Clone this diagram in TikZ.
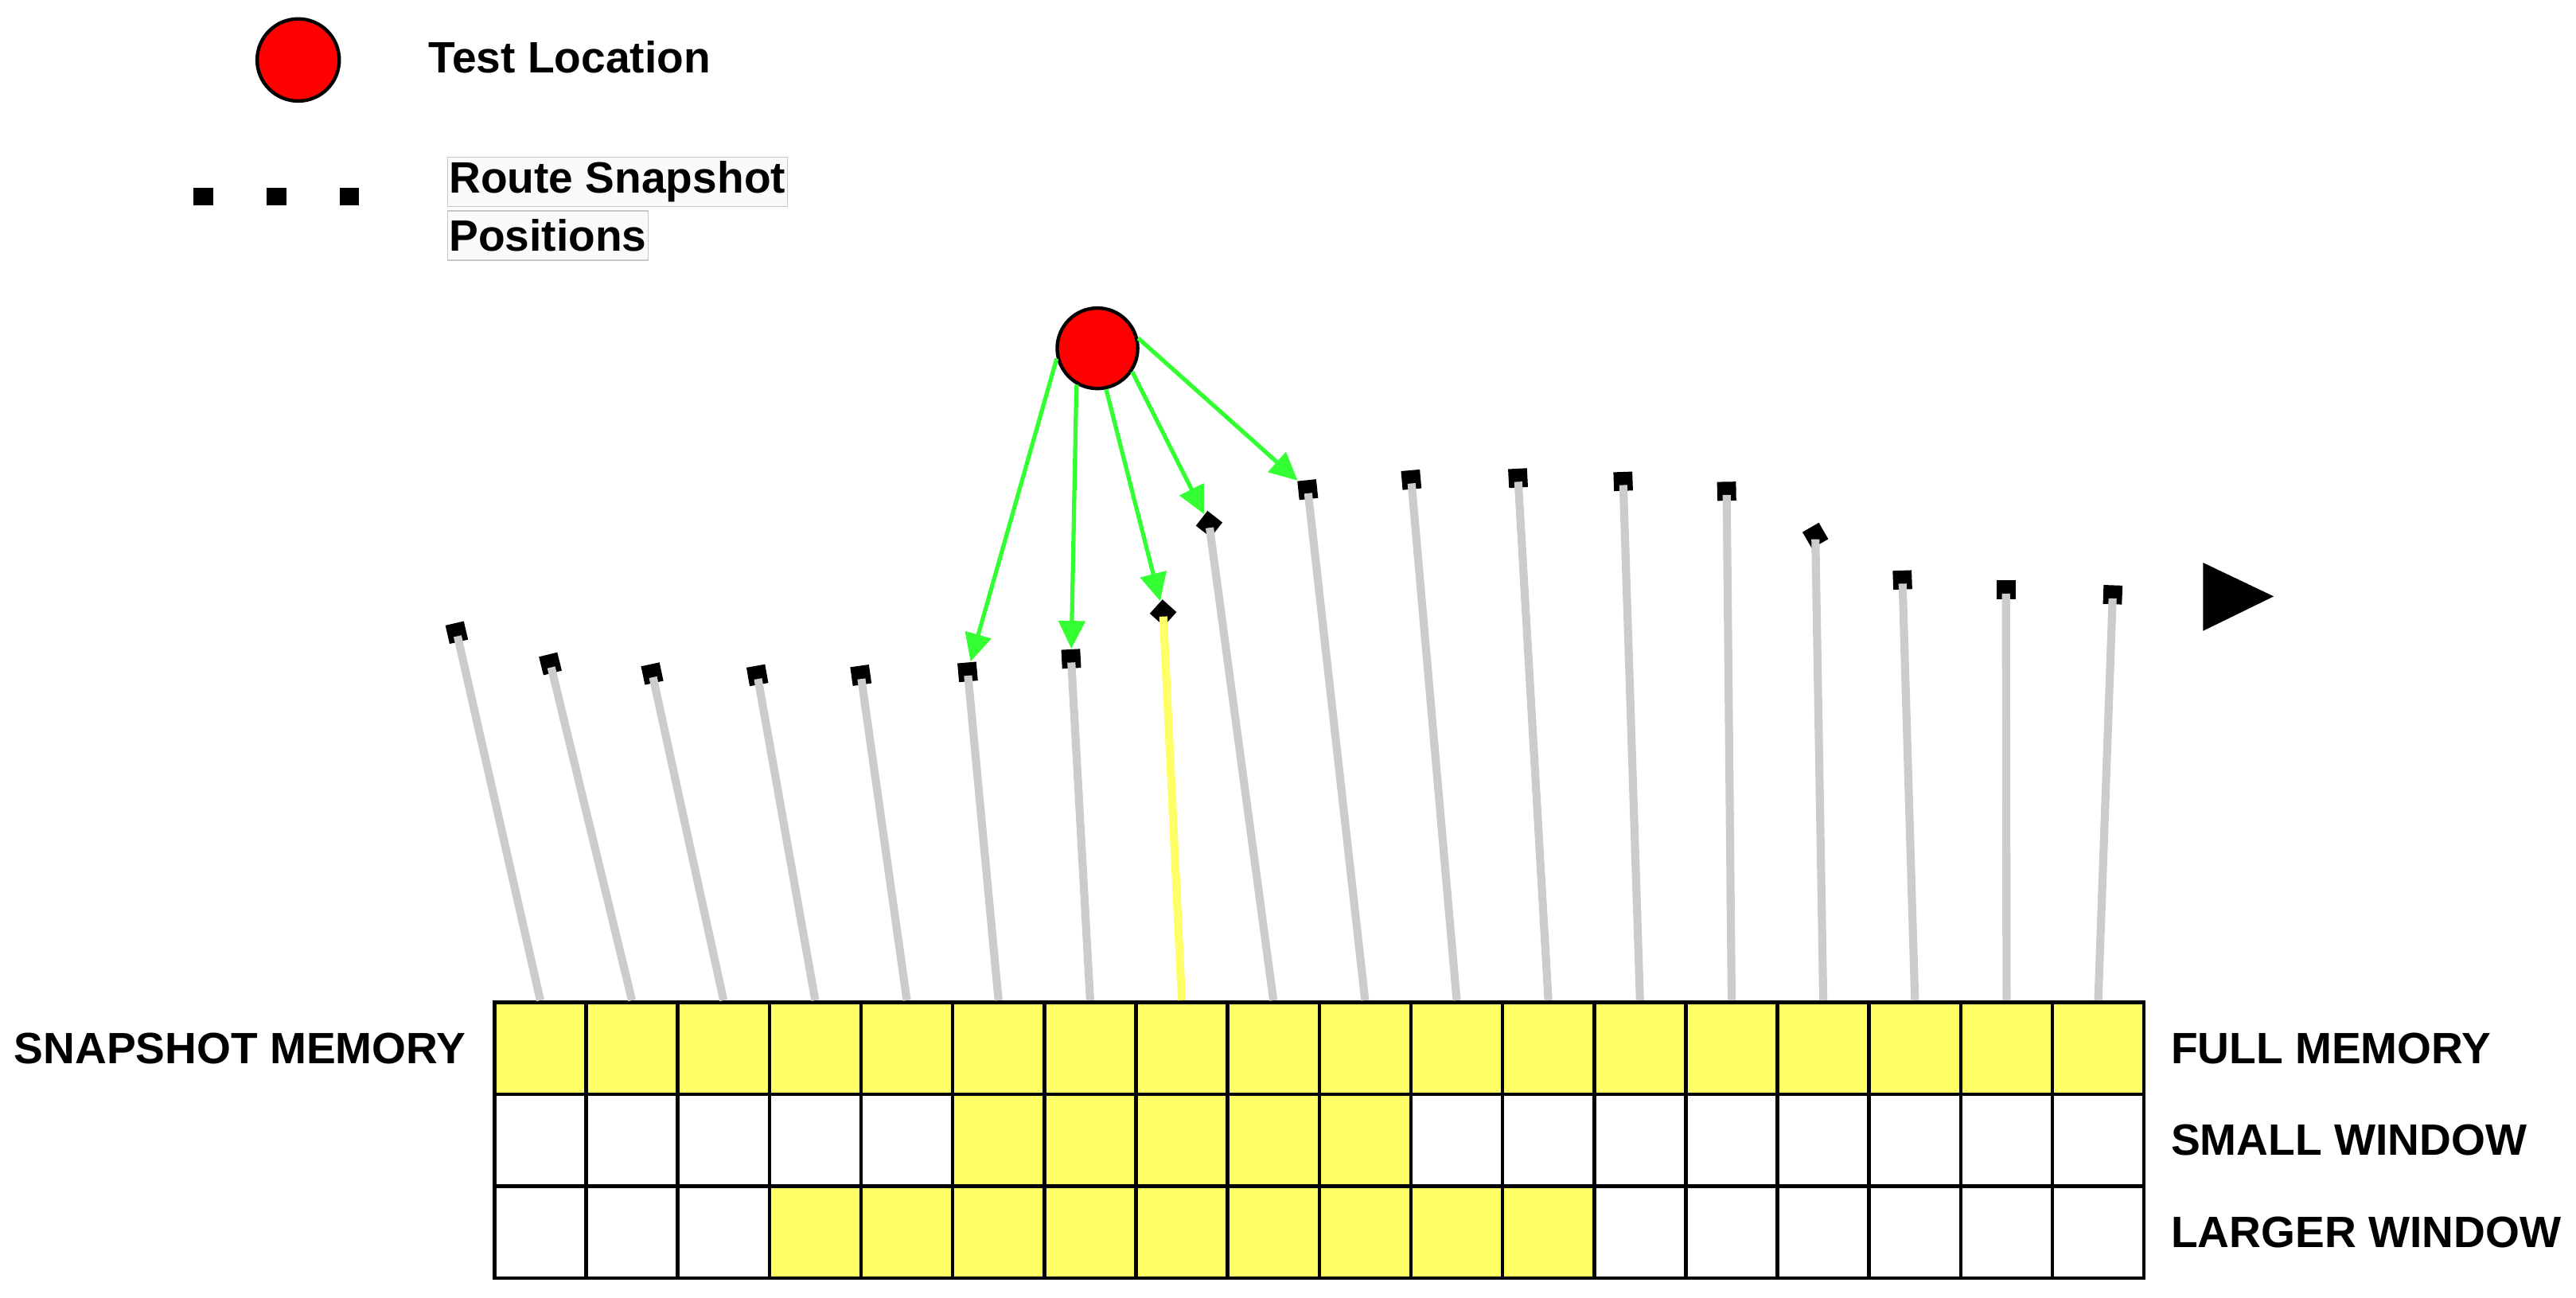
\documentclass[tikz,border=0pt]{standalone}
\usepackage{fontspec}
\setmainfont{Liberation Sans}
\usepackage{xcolor}
\usetikzlibrary{arrows.meta,positioning}
\definecolor{testred}{HTML}{FF0000}
\definecolor{probegreen}{HTML}{33FF33}
\definecolor{memyellow}{HTML}{FFFF66}
\definecolor{linegray}{HTML}{CCCCCC}
\definecolor{framegray}{HTML}{C8C8C8}
\definecolor{framefill}{HTML}{FAFAFA}

\begin{document}
\begin{tikzpicture}[
  x=0.02cm, y=-0.02cm,
  font=\bfseries\fontsize{15.2}{18}\selectfont,
  testloc/.style={circle,draw=black,line width=1.2pt,fill=testred,minimum size=0.98cm,inner sep=0},
  snapshot/.style={rectangle,fill=black,minimum size=0.23cm,inner sep=0},
  cell/.style={rectangle,draw=black,line width=1.25pt,minimum width=1.116cm,minimum height=1.12cm,inner sep=0},
  memline/.style={draw=linegray,line width=2.8pt,shorten >=0.045cm},
  probe/.style={-{Triangle[length=0.34cm,width=0.32cm]},draw=probegreen,line width=1.45pt},
  frametext/.style={draw=framegray,fill=framefill,line width=0.4pt,inner xsep=0.6pt,inner ysep=0pt,minimum height=0.6cm},
  lbl/.style={inner sep=0}
]
\useasboundingbox (0,0) rectangle (1568,790);

\node[testloc,minimum size=1.0cm] (legtest) at (181.5,36.5) {};
\node[lbl,right=1.06cm of legtest,yshift=0.035cm] (legtest-text) {Test Location};
\foreach \i/\x in {1/123.7,2/168.2,3/212.7}
  \node[snapshot,minimum width=0.24cm,minimum height=0.22cm] (legdot-\i) at (\x,119.7) {};
\node[frametext,anchor=north west] (legsnap) at (272,95.3) {Route Snapshot};
\node[frametext,below right=0.04cm and 0cm of legsnap.south west] (legsnap-2) {Positions};

\foreach \i in {1,...,18} {
  \node[cell,fill=memyellow] (full-\i) at ({273.11+55.78*\i},638) {};
  \pgfmathtruncatemacro{\pct}{100*(\i>5)*(\i<11)}
  \node[cell,fill=memyellow!\pct!white] (small-\i) at ({273.11+55.78*\i},694) {};
  \pgfmathtruncatemacro{\pct}{100*(\i>3)*(\i<13)}
  \node[cell,fill=memyellow!\pct!white] (large-\i) at ({273.11+55.78*\i},750) {};
}
\node[lbl,left=0.32cm of full-1] {SNAPSHOT MEMORY};
\node[lbl,right=0.3cm of full-18] {FULL MEMORY};
\node[lbl,right=0.3cm of small-18] {SMALL WINDOW};
\node[lbl,right=0.3cm of large-18] {LARGER WINDOW};

\foreach \i/\x/\y/\r in {1/278/385/13,2/335/404/14,3/397/410/12,4/461/411/10,5/524/411/8,
    6/589/409/5,7/652/401/3,8/708/373/48,9/736/319/52,10/796/298/6,11/859/292/5,12/924/291/3,
    13/988/293/2,14/1051/299/1,15/1105/326/30,16/1158/353/2,17/1221/359/0,18/1286/362/-2}
  \node[snapshot,rotate=\r] (snap-\i) at (\x,\y) {};
\foreach \i in {1,...,7,9,10,...,18}
  \draw[memline] (full-\i.north) -- (snap-\i.center);
\draw[memline,draw=memyellow] (full-8.north) -- (snap-8.center);

\fill[black] (1341,342.5) -- (1384,363) -- (1341,384) -- cycle;

\node[testloc] (test) at (668,212) {};
\draw[probe] (test.194) -- (snap-6);
\draw[probe] (test.240) -- (snap-7);
\draw[probe] (test.282) -- (snap-8);
\draw[probe] (test.326) -- (snap-9);
\draw[probe] (test.14) -- (snap-10);
\end{tikzpicture}
\end{document}
